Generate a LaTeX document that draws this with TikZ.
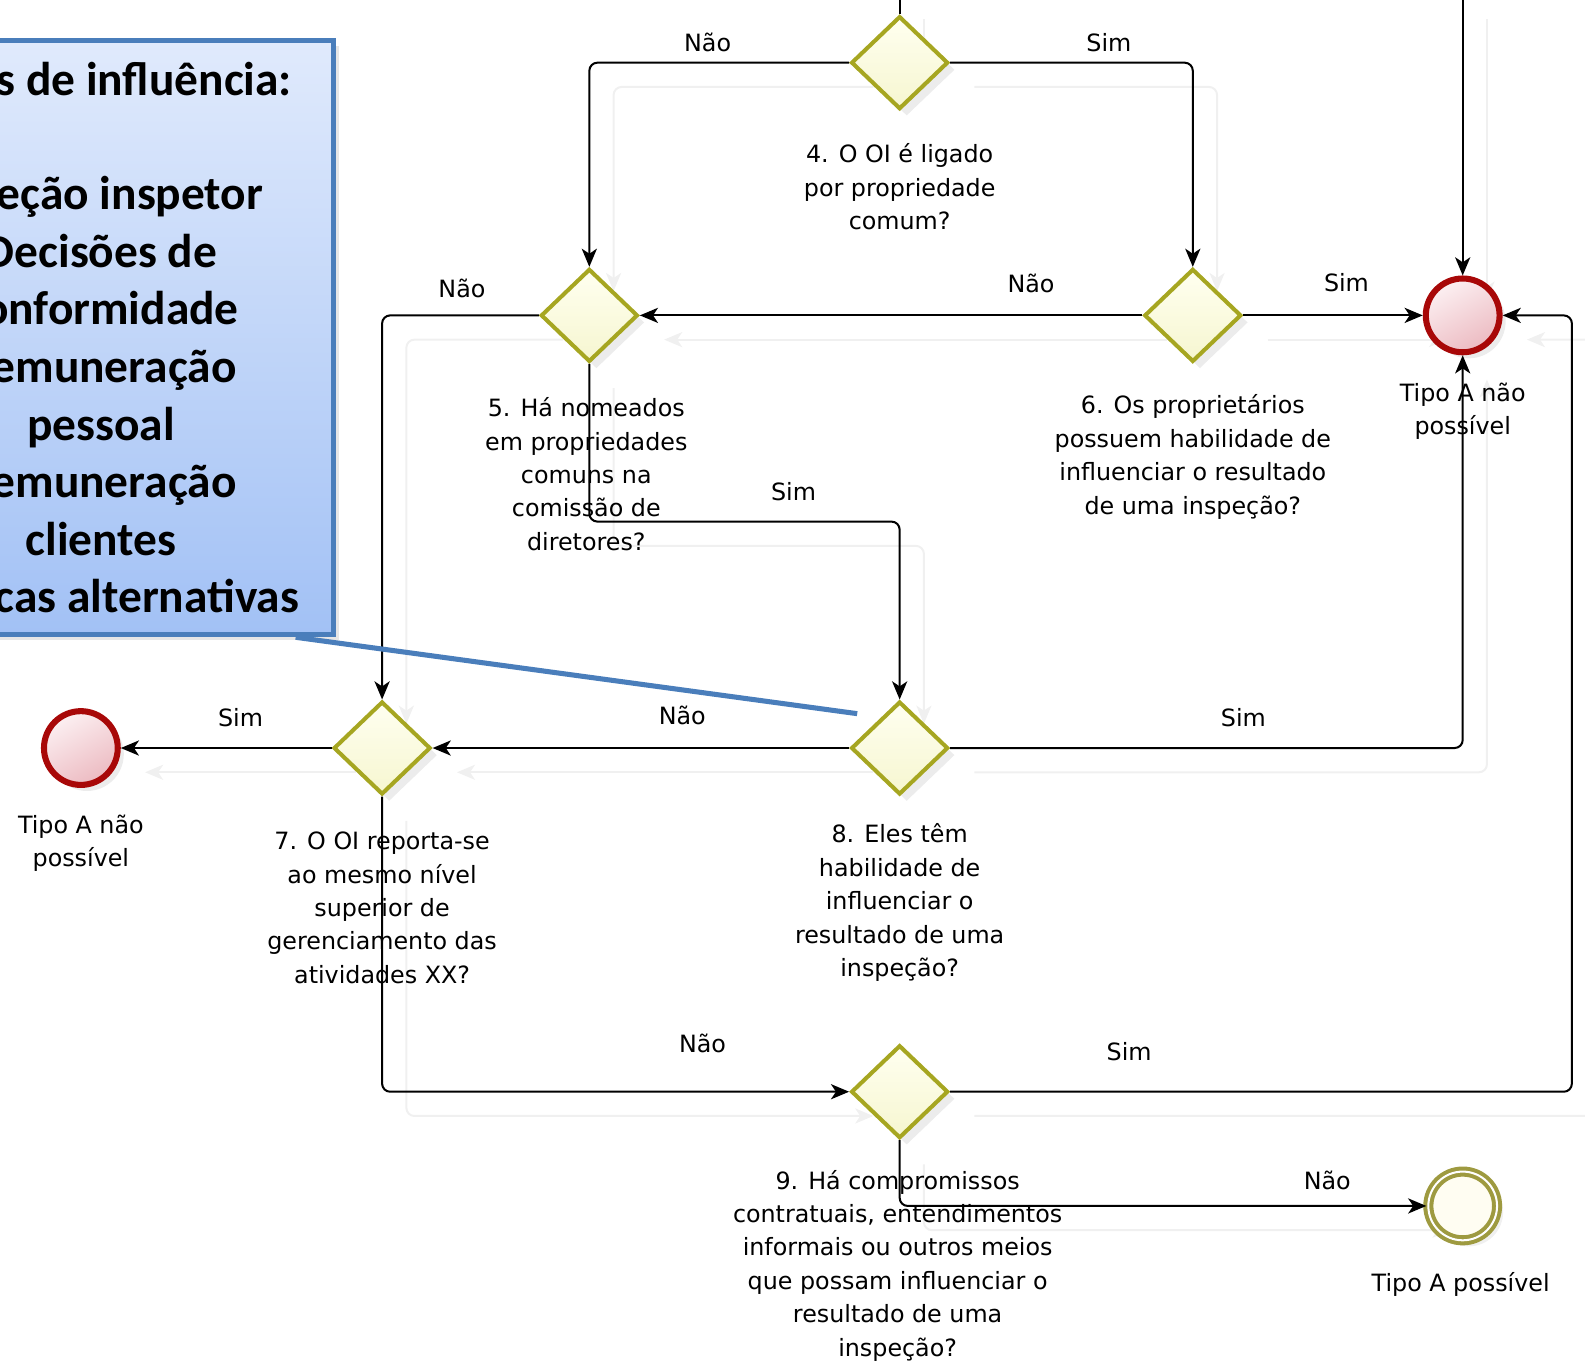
\documentclass[tikz,border=0pt]{standalone}
\usepackage{fontspec}
\setmainfont{DejaVu Sans}
\newfontfamily\notefont{Carlito}
\usetikzlibrary{shapes.geometric,arrows.meta,shadows,backgrounds}

\definecolor{gateline}{RGB}{166,166,33}
\definecolor{gatetop}{RGB}{255,255,240}
\definecolor{gatebot}{RGB}{246,246,208}
\definecolor{endred}{RGB}{168,8,8}
\definecolor{endtop}{RGB}{252,240,242}
\definecolor{endbot}{RGB}{236,186,193}
\definecolor{okring}{RGB}{158,154,64}
\definecolor{okfill}{RGB}{255,253,242}
\definecolor{notetop}{RGB}{224,234,252}
\definecolor{notebot}{RGB}{162,193,245}
\definecolor{noteline}{RGB}{74,126,187}

\tikzset{
  gate/.style={diamond, draw=gateline, line width=0.08cm, top color=gatetop,
    bottom color=gatebot, minimum width=1.92cm, minimum height=1.84cm, inner sep=0pt,
    drop shadow={shadow xshift=0.14cm, shadow yshift=-0.14cm, opacity=0.15}},
  stopevent/.style={circle, draw=endred, line width=0.12cm, top color=endtop,
    bottom color=endbot, shading angle=30, minimum size=1.46cm, inner sep=0pt,
    drop shadow={shadow xshift=0.12cm, shadow yshift=-0.12cm, opacity=0.15}},
  okevent/.style={circle, draw=okring, line width=0.08cm, double=white,
    double distance=0.04cm, fill=okfill, minimum size=1.36cm, inner sep=0pt,
    drop shadow={shadow xshift=0.12cm, shadow yshift=-0.12cm, opacity=0.12}},
  lbl/.style={font=\fontsize{13.4}{18.8}\selectfont, inner sep=0pt},
  qtext/.style={lbl, align=center},
  flow/.style={draw=black, line width=0.04cm, rounded corners=0.16cm,
    -{Stealth[length=0.36cm, width=0.3cm, inset=0.1cm]}},
  link/.style={flow, -},
  note/.style={rectangle, draw=noteline, line width=0.1cm, top color=notetop,
    bottom color=notebot, minimum width=9.2cm, minimum height=11.76cm,
    align=center, font=\notefont\bfseries\fontsize{26.7}{32.4}\selectfont,
    drop shadow={shadow xshift=0.1cm, shadow yshift=-0.1cm, opacity=0.2}},
  pointer/.style={draw=noteline, line width=0.1cm}
}

\begin{document}
\begin{tikzpicture}[x=0.02cm, y=-0.02cm]
\useasboundingbox (0,0) rectangle (1568,1349);
\clip (0,0) rectangle (1568,1349);

% gateways
\node[gate] (g4) at (890,62) {};
\node[gate] (g5) at (583,312) {};
\node[gate] (g6) at (1180,312) {};
\node[gate] (g7) at (378,740) {};
\node[gate] (g8) at (890,740) {};
\node[gate] (g9) at (890,1080) {};

% end events
\node[stopevent] (endA) at (1447,312) {};
\node[stopevent] (endB) at (80,740) {};
\node[okevent] (endC) at (1447,1193) {};

\coordinate (in4) at (890,-5);
\coordinate (inA) at (1447,-5);
\coordinate (bend5) at (583,516);
\coordinate (bend9) at (1555,1080);

\def\connectors{
  \draw[link] (in4) -- (g4.north);
  \draw[flow] (g4.west) -| (g5.north);
  \draw[flow] (g4.east) -| (g6.north);
  \draw[flow] (g6.west) -- (g5.east);
  \draw[flow] (g6.east) -- (endA.west);
  \draw[flow] (inA) -- (endA.north);
  \draw[flow] (g5.west) -| (g7.north);
  \draw[flow] (g5.south) -- (bend5) -| (g8.north);
  \draw[flow] (g8.west) -- (g7.east);
  \draw[flow] (g8.east) -| (endA.south);
  \draw[flow] (g7.west) -- (endB.east);
  \draw[flow] (g7.south) |- (g9.west);
  \draw[flow] (g9.east) -- (bend9) |- (endA.east);
  \draw[flow] (g9.south) |- (endC.west);
}

% faint copy of the flows
\begin{scope}[on background layer]
  \begin{scope}[transform canvas={shift={(0.48cm,-0.48cm)}},
      flow/.append style={draw=black!6}]
    \connectors
  \end{scope}
\end{scope}
\connectors

% branch labels
\node[lbl] (nao4) at (700,42) {Não};
\node[lbl] (sim4) at (1097,42) {Sim};
\node[lbl] (nao5) at (457,285) {Não};
\node[lbl] (nao6) at (1020,280) {Não};
\node[lbl] (sim6) at (1332,280) {Sim};
\node[lbl] (sim5) at (785,486) {Sim};
\node[lbl] (nao8) at (675,708) {Não};
\node[lbl] (sim8) at (1230,710) {Sim};
\node[lbl] (sim7) at (238,710) {Sim};
\node[lbl] (nao7) at (695,1032) {Não};
\node[lbl] (sim9) at (1117,1040) {Sim};
\node[lbl] (nao9) at (1313,1168) {Não};

% questions
\node[qtext] (t4) at (890,185) {4. O OI é ligado\\por propriedade\\comum?};
\node[qtext] (t5) at (580,469) {5. Há nomeados\\em propriedades\\comuns na\\comissão de\\diretores?};
\node[qtext] (t6) at (1180,452) {6. Os proprietários\\possuem habilidade de\\influenciar o resultado\\de uma inspeção?};
\node[qtext] (t7) at (378,898) {7. O OI reporta-se\\ao mesmo nível\\superior de\\gerenciamento das\\atividades XX?};
\node[qtext] (t8) at (890,893) {8. Eles têm\\habilidade de\\influenciar o\\resultado de uma\\inspeção?};
\node[qtext] (t9) at (888,1252) {9. Há compromissos\\contratuais, entendimentos\\informais ou outros meios\\que possam influenciar o\\resultado de uma\\inspeção?};
\node[qtext] (tA) at (1447,407) {Tipo A não\\possível};
\node[qtext] (tB) at (80,834) {Tipo A não\\possível};
\node[qtext] (tC) at (1445,1271) {Tipo A possível};

% callout
\coordinate (pin) at (848,706);
\node[note] (callout) at (100,334) {Tipos de influência:\\[32pt]Seleção inspetor\\Decisões de\\conformidade\\Remuneração\\pessoal\\Remuneração\\clientes\\Práticas alternativas};
\draw[pointer] ([xshift=-0.8cm]callout.south east) -- (pin);
\end{tikzpicture}
\end{document}
